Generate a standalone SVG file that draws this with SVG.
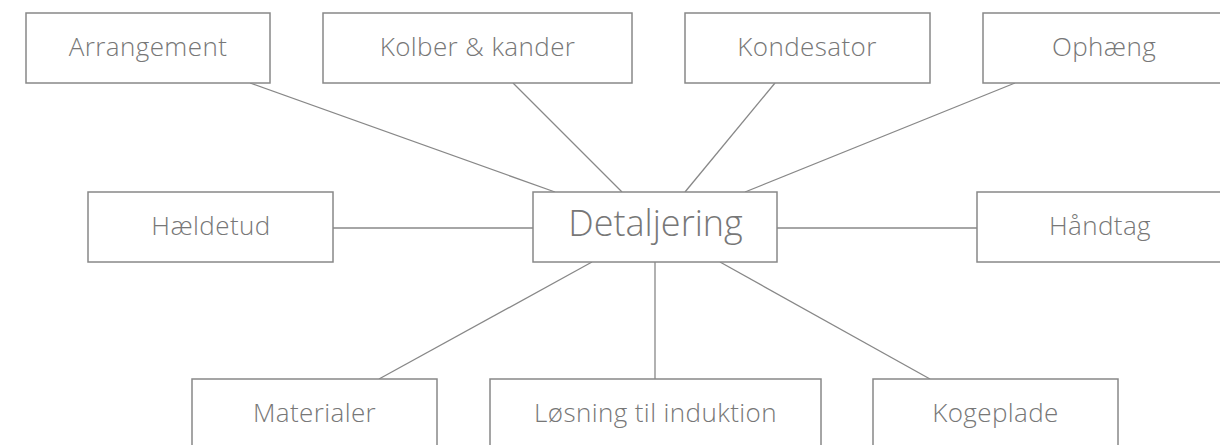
<svg xmlns="http://www.w3.org/2000/svg" width="1220" height="445" viewBox="0 0 1220 445">
<style>
.box{fill:#fff;stroke:#888;stroke-width:1.5}
.lbl{font-family:"Open Sans","Liberation Sans",sans-serif;font-weight:300;font-size:26px;letter-spacing:0.4px;fill:#777;text-anchor:middle}
.big{font-size:36px;letter-spacing:0}
.con line{stroke:#888;stroke-width:1.3}
</style>
<rect width="1220" height="445" fill="#fff"/>
<g class="con">
<line x1="250" y1="83" x2="555" y2="192"/>
<line x1="513" y1="83" x2="622" y2="192"/>
<line x1="775" y1="83" x2="685" y2="192"/>
<line x1="1015" y1="83" x2="745" y2="192"/>
<line x1="333" y1="228" x2="533" y2="228"/>
<line x1="977" y1="228" x2="777" y2="228"/>
<line x1="379" y1="379" x2="592" y2="262"/>
<line x1="655" y1="379" x2="655" y2="262"/>
<line x1="930" y1="379" x2="720" y2="262"/>
</g>
<g id="arrangement"><rect class="box" x="26" y="13" width="244" height="70"/><text class="lbl" x="148" y="56">Arrangement</text></g>
<g id="kolber"><rect class="box" x="323" y="13" width="309" height="70"/><text class="lbl" x="477.5" y="56">Kolber &amp; kander</text></g>
<g id="kondesator"><rect class="box" x="685" y="13" width="245" height="70"/><text class="lbl" x="807" y="56">Kondesator</text></g>
<g id="ophaeng"><rect class="box" x="983" y="13" width="242" height="70"/><text class="lbl" x="1104" y="56">Ophæng</text></g>
<g id="haeldetud"><rect class="box" x="88" y="192" width="245" height="70"/><text class="lbl" x="211" y="235">Hældetud</text></g>
<g id="detaljering"><rect class="box" x="533" y="192" width="244" height="70"/><text class="lbl big" x="655.5" y="236">Detaljering</text></g>
<g id="haandtag"><rect class="box" x="977" y="192" width="246" height="70"/><text class="lbl" x="1100" y="235">Håndtag</text></g>
<g id="materialer"><rect class="box" x="192" y="379" width="245" height="80"/><text class="lbl" x="314.5" y="422">Materialer</text></g>
<g id="loesning"><rect class="box" x="490" y="379" width="331" height="80"/><text class="lbl" x="655.5" y="422">Løsning til induktion</text></g>
<g id="kogeplade"><rect class="box" x="873" y="379" width="245" height="80"/><text class="lbl" x="995.5" y="422">Kogeplade</text></g>
</svg>
